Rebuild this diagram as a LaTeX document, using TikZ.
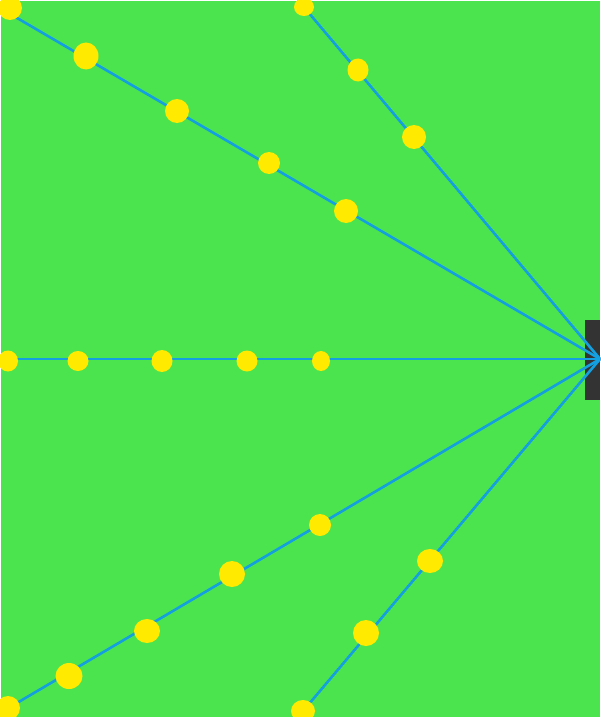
\documentclass[tikz,border=0pt]{standalone}
\usepackage{tikz}
\usetikzlibrary{shapes.geometric}
\definecolor{fieldGreen}{HTML}{4CE44E}
\definecolor{rayBlue}{HTML}{149FE0}
\definecolor{dotYellow}{HTML}{FFEA00}
\definecolor{postGray}{HTML}{333333}

\begin{document}
\begin{tikzpicture}[x=1pt,y=-1pt,
    ray/.style={draw=rayBlue,line width=2.6pt},
    dot/.style={ellipse,fill=dotYellow,inner sep=0pt,minimum size=#1},
    dot/.default=22pt,
    post/.style={fill=postGray,inner sep=0pt,minimum width=15pt,minimum height=80pt}]
  % background
  \useasboundingbox (0,0) rectangle (600,717);
  \fill[white] (0,0) rectangle (600,717);
  \fill[fieldGreen] (1,1) rectangle (600,717);
  \node[post] (post) at (592.5,360) {};
  % hub and far ends
  \coordinate (hub) at (600,359);
  \coordinate (endA) at (0,8);
  \coordinate (endB) at (298,0);
  \coordinate (endC) at (0,359);
  \coordinate (endD) at (0,713);
  \coordinate (endE) at (298,717);
  \foreach \e in {endA,endB,endC,endD,endE}
    \draw[ray] (hub) -- (\e);
  % upper ray
  \node[dot=24pt] (a1) at (10,8) {};
  \node[dot=25pt,minimum height=27pt] (a2) at (86,56) {};
  \node[dot=24pt] (a3) at (177,111) {};
  \node[dot=22pt] (a4) at (269,163) {};
  \node[dot=24pt] (a5) at (346,211) {};
  % steep upper ray
  \node[dot=20pt,minimum height=18pt] (b1) at (304,7) {};
  \node[dot=21pt,minimum height=23pt] (b2) at (358,70) {};
  \node[dot=24pt] (b3) at (414,137) {};
  % middle ray
  \node[dot=20pt,minimum height=21pt] (c1) at (8,361) {};
  \node[dot=21pt,minimum height=20pt] (c2) at (78,361) {};
  \node[dot=21pt,minimum height=22pt] (c3) at (162,361) {};
  \node[dot=21pt] (c4) at (247,361) {};
  \node[dot=18pt,minimum height=20pt] (c5) at (321,361) {};
  % lower ray
  \node[dot=24pt] (d1) at (8,708) {};
  \node[dot=27pt,minimum height=26pt] (d2) at (69,676) {};
  \node[dot=26pt,minimum height=24pt] (d3) at (147,631) {};
  \node[dot=26pt] (d4) at (232,574) {};
  \node[dot=22pt] (d5) at (320,525) {};
  % steep lower ray
  \node[dot=24pt,minimum height=22pt] (e1) at (303,711) {};
  \node[dot=26pt] (e2) at (366,633) {};
  \node[dot=26pt,minimum height=24pt] (e3) at (430,561) {};
\end{tikzpicture}
\end{document}
